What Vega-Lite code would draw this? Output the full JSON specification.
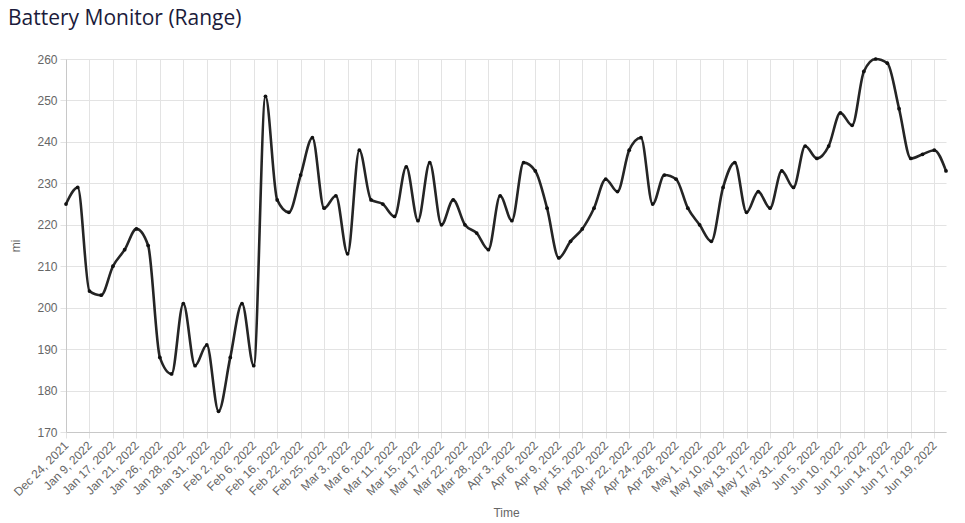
{
  "$schema": "https://vega.github.io/schema/vega-lite/v6.json",
  "autosize": {"type": "none"},
  "width": 880,
  "height": 373,
  "padding": {"left": 66, "top": 59, "right": 19, "bottom": 91},
  "background": "white",
  "title": {
    "text": "Battery Monitor (Range)",
    "anchor": "start",
    "frame": "group",
    "dx": -58,
    "offset": 24,
    "font": "Open Sans",
    "fontSize": 21,
    "fontWeight": 500,
    "color": "#1b1b3b"
  },
  "config": {
    "view": {"stroke": null},
    "axis": {
      "labelFont": "Liberation Sans",
      "titleFont": "Liberation Sans",
      "labelFontSize": 12,
      "titleFontSize": 12,
      "labelColor": "#666",
      "titleColor": "#666",
      "titleFontWeight": "normal",
      "gridColor": "#e3e3e3",
      "tickColor": "#e3e3e3",
      "domainColor": "#c8c8c8"
    }
  },
  "data": {
    "values": [
      {"date": "Dec 24, 2021", "range": 225},
      {"date": "Jan 1, 2022", "range": 229},
      {"date": "Jan 9, 2022", "range": 204},
      {"date": "Jan 13, 2022", "range": 203},
      {"date": "Jan 17, 2022", "range": 210},
      {"date": "Jan 19, 2022", "range": 214},
      {"date": "Jan 21, 2022", "range": 219},
      {"date": "Jan 24, 2022", "range": 215},
      {"date": "Jan 26, 2022", "range": 188},
      {"date": "Jan 27, 2022", "range": 184},
      {"date": "Jan 28, 2022", "range": 201},
      {"date": "Jan 30, 2022", "range": 186},
      {"date": "Jan 31, 2022", "range": 191},
      {"date": "Feb 1, 2022", "range": 175},
      {"date": "Feb 2, 2022", "range": 188},
      {"date": "Feb 4, 2022", "range": 201},
      {"date": "Feb 6, 2022", "range": 186},
      {"date": "Feb 11, 2022", "range": 251},
      {"date": "Feb 16, 2022", "range": 226},
      {"date": "Feb 19, 2022", "range": 223},
      {"date": "Feb 22, 2022", "range": 232},
      {"date": "Feb 24, 2022", "range": 241},
      {"date": "Feb 25, 2022", "range": 224},
      {"date": "Feb 27, 2022", "range": 227},
      {"date": "Mar 3, 2022", "range": 213},
      {"date": "Mar 5, 2022", "range": 238},
      {"date": "Mar 6, 2022", "range": 226},
      {"date": "Mar 9, 2022", "range": 225},
      {"date": "Mar 11, 2022", "range": 222},
      {"date": "Mar 13, 2022", "range": 234},
      {"date": "Mar 15, 2022", "range": 221},
      {"date": "Mar 16, 2022", "range": 235},
      {"date": "Mar 17, 2022", "range": 220},
      {"date": "Mar 20, 2022", "range": 226},
      {"date": "Mar 22, 2022", "range": 220},
      {"date": "Mar 25, 2022", "range": 218},
      {"date": "Mar 28, 2022", "range": 214},
      {"date": "Apr 1, 2022", "range": 227},
      {"date": "Apr 3, 2022", "range": 221},
      {"date": "Apr 5, 2022", "range": 235},
      {"date": "Apr 6, 2022", "range": 233},
      {"date": "Apr 8, 2022", "range": 224},
      {"date": "Apr 9, 2022", "range": 212},
      {"date": "Apr 12, 2022", "range": 216},
      {"date": "Apr 15, 2022", "range": 219},
      {"date": "Apr 18, 2022", "range": 224},
      {"date": "Apr 20, 2022", "range": 231},
      {"date": "Apr 21, 2022", "range": 228},
      {"date": "Apr 22, 2022", "range": 238},
      {"date": "Apr 23, 2022", "range": 241},
      {"date": "Apr 24, 2022", "range": 225},
      {"date": "Apr 26, 2022", "range": 232},
      {"date": "Apr 28, 2022", "range": 231},
      {"date": "Apr 30, 2022", "range": 224},
      {"date": "May 1, 2022", "range": 220},
      {"date": "May 5, 2022", "range": 216},
      {"date": "May 10, 2022", "range": 229},
      {"date": "May 12, 2022", "range": 235},
      {"date": "May 13, 2022", "range": 223},
      {"date": "May 15, 2022", "range": 228},
      {"date": "May 17, 2022", "range": 224},
      {"date": "May 24, 2022", "range": 233},
      {"date": "May 31, 2022", "range": 229},
      {"date": "Jun 3, 2022", "range": 239},
      {"date": "Jun 5, 2022", "range": 236},
      {"date": "Jun 8, 2022", "range": 239},
      {"date": "Jun 10, 2022", "range": 247},
      {"date": "Jun 11, 2022", "range": 244},
      {"date": "Jun 12, 2022", "range": 257},
      {"date": "Jun 13, 2022", "range": 260},
      {"date": "Jun 14, 2022", "range": 259},
      {"date": "Jun 16, 2022", "range": 248},
      {"date": "Jun 17, 2022", "range": 236},
      {"date": "Jun 18, 2022", "range": 237},
      {"date": "Jun 19, 2022", "range": 238},
      {"date": "Jun 21, 2022", "range": 233}
    ]
  },
  "encoding": {
    "x": {
      "field": "date",
      "type": "ordinal",
      "sort": null,
      "scale": {"type": "point", "padding": 0},
      "axis": {
        "title": "Time",
        "values": ["Dec 24, 2021", "Jan 9, 2022", "Jan 17, 2022", "Jan 21, 2022", "Jan 26, 2022", "Jan 28, 2022", "Jan 31, 2022", "Feb 2, 2022", "Feb 6, 2022", "Feb 16, 2022", "Feb 22, 2022", "Feb 25, 2022", "Mar 3, 2022", "Mar 6, 2022", "Mar 11, 2022", "Mar 15, 2022", "Mar 17, 2022", "Mar 22, 2022", "Mar 28, 2022", "Apr 3, 2022", "Apr 6, 2022", "Apr 9, 2022", "Apr 15, 2022", "Apr 20, 2022", "Apr 22, 2022", "Apr 24, 2022", "Apr 28, 2022", "May 1, 2022", "May 10, 2022", "May 13, 2022", "May 17, 2022", "May 31, 2022", "Jun 5, 2022", "Jun 10, 2022", "Jun 12, 2022", "Jun 14, 2022", "Jun 17, 2022", "Jun 19, 2022"],
        "labelAngle": -45,
        "labelAlign": "right",
        "labelBaseline": "middle",
        "labelPadding": 5,
        "tickSize": 6,
        "grid": true,
        "labelOverlap": false,
        "titlePadding": 9
      }
    },
    "y": {
      "field": "range",
      "type": "quantitative",
      "scale": {"domain": [170, 260], "nice": false, "zero": false},
      "axis": {
        "title": "mi",
        "values": [170, 180, 190, 200, 210, 220, 230, 240, 250, 260],
        "tickSize": 6,
        "labelPadding": 3,
        "titlePadding": 14,
        "grid": true
      }
    }
  },
  "layer": [
    {
      "mark": {"type": "line", "interpolate": "monotone", "color": "#252525", "strokeWidth": 2.6}
    },
    {
      "mark": {"type": "point", "filled": true, "color": "#111", "size": 14, "opacity": 1}
    }
  ]
}
